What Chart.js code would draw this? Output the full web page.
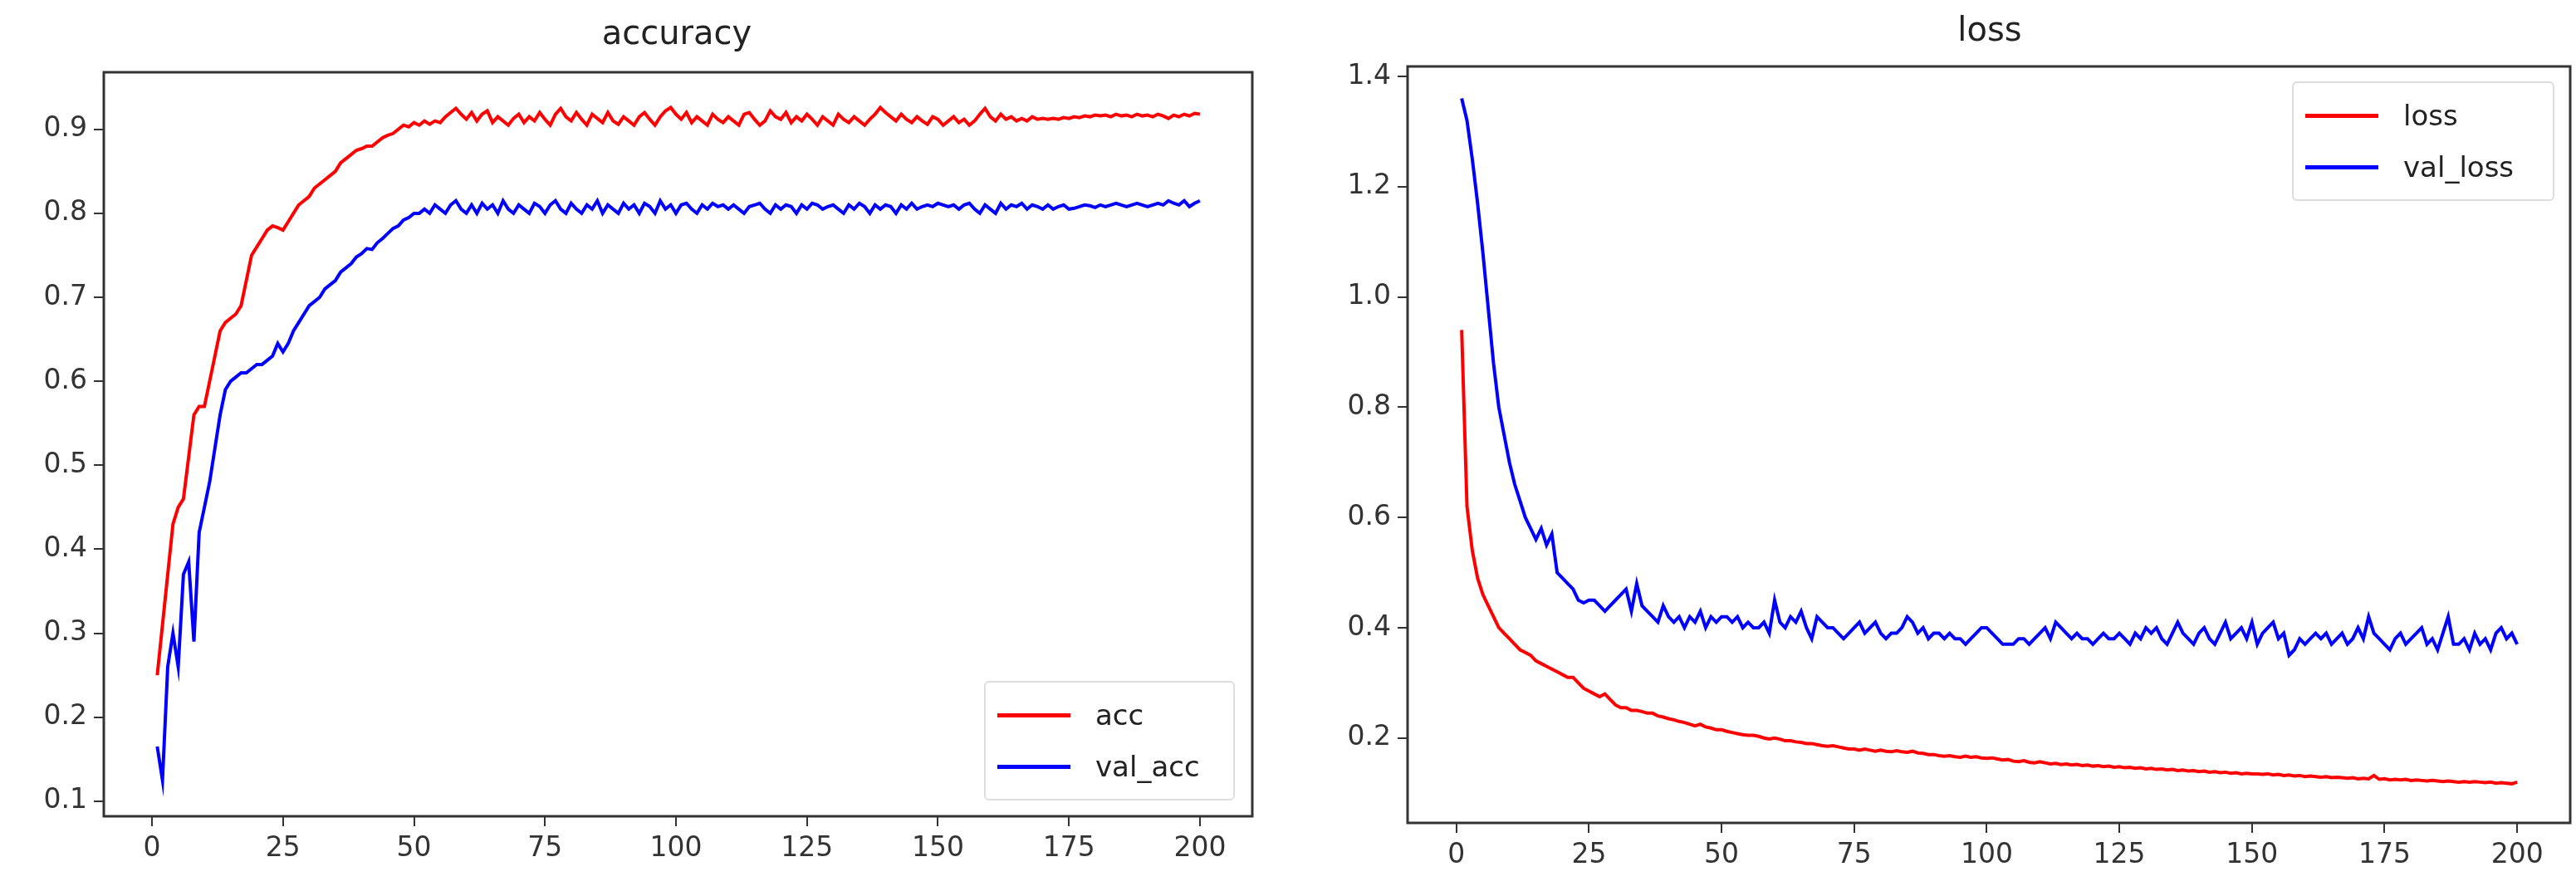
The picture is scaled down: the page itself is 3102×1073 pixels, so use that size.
<!DOCTYPE html>
<html>
<head>
<meta charset="utf-8">
<script src="https://cdn.jsdelivr.net/npm/chart.js@4"></script>
<style>
  body { margin: 0; background: #fff; font-family: "DejaVu Sans", sans-serif; }
  .panel { position: absolute; top: 0; height: 1073px; }
  .title { position: absolute; top: 16px; width: 100%; text-align: center; font-size: 40px; color: #222; }
  .legend { position: absolute; background: rgba(255,255,255,0.85); border: 2px solid #ddd; border-radius: 6px; font-size: 34px; color: #222; padding: 8px 14px; }
  .legend div { display: flex; align-items: center; height: 62px; }
  .legend span { display: inline-block; width: 88px; height: 5px; margin-right: 30px; }
</style>
</head>
<body>
<div class="panel" style="left:0;width:1550px">
  <canvas id="accChart" width="1550" height="1073"></canvas>
  <div class="title" style="left:40px">accuracy</div>
  <div class="legend" style="left:1185px;top:820px;width:270px">
    <div><span style="background:#ff0000"></span>acc</div>
    <div><span style="background:#0000ff"></span>val_acc</div>
  </div>
</div>
<div class="panel" style="left:1550px;width:1552px">
  <canvas id="lossChart" width="1552" height="1073"></canvas>
  <div class="title" style="left:70px;top:12px">loss</div>
  <div class="legend" style="left:1210px;top:98px;width:284px">
    <div><span style="background:#ff0000"></span>loss</div>
    <div><span style="background:#0000ff"></span>val_loss</div>
  </div>
</div>
<script>
const epochs = Array.from({ length: 200 }, (_, i) => i + 1);
const xTicks = [0, 25, 50, 75, 100, 125, 150, 175, 200];
const accTicks = [0.1, 0.2, 0.3, 0.4, 0.5, 0.6, 0.7, 0.8, 0.9];
const lossTicks = [0.2, 0.4, 0.6, 0.8, 1.0, 1.2, 1.4];

const acc = [
  .25,.31,.37,.43,.45,.46,.51,.56,.57,.57,
  .60,.63,.66,.67,.675,.68,.69,.72,.75,.76,
  .77,.78,.785,.783,.78,.79,.80,.81,.815,.82,
  .83,.835,.84,.845,.85,.86,.865,.87,.875,.877,
  .88,.88,.885,.89,.893,.895,.90,.905,.903,.908,
  .905,.91,.906,.91,.908,.915,.92,.925,.918,.912,
  .92,.91,.918,.922,.908,.915,.91,.905,.913,.918,
  .908,.915,.91,.92,.912,.905,.918,.925,.915,.91,
  .92,.912,.905,.918,.913,.908,.92,.91,.906,.915,
  .91,.905,.915,.92,.912,.905,.915,.922,.926,.918,
  .912,.92,.908,.915,.91,.905,.918,.912,.908,.915,
  .91,.905,.918,.92,.912,.905,.91,.922,.915,.912,
  .92,.908,.915,.91,.918,.912,.905,.915,.91,.905,
  .918,.912,.908,.915,.91,.905,.912,.918,.926,.92,
  .915,.91,.918,.912,.908,.915,.91,.906,.915,.912,
  .905,.91,.915,.908,.912,.905,.91,.918,.925,.915,
  .91,.918,.912,.915,.91,.913,.91,.915,.912,.913,
  .912,.913,.912,.914,.913,.915,.914,.916,.915,.917,
  .916,.917,.915,.918,.916,.917,.915,.918,.916,.917,
  .915,.918,.916,.913,.917,.915,.918,.916,.919,.918
];
const valAcc = [
  .165,.125,.26,.30,.26,.37,.385,.29,.42,.45,
  .48,.52,.56,.59,.60,.605,.61,.61,.615,.62,
  .62,.625,.63,.645,.635,.645,.66,.67,.68,.69,
  .695,.70,.71,.715,.72,.73,.735,.74,.748,.752,
  .758,.757,.765,.77,.776,.782,.785,.792,.795,.80,
  .80,.805,.80,.81,.805,.80,.81,.815,.805,.80,
  .81,.80,.812,.805,.81,.80,.815,.805,.80,.81,
  .805,.80,.812,.808,.80,.81,.815,.805,.80,.812,
  .805,.80,.81,.805,.815,.80,.81,.805,.80,.812,
  .805,.81,.80,.812,.808,.80,.815,.805,.81,.80,
  .81,.812,.805,.80,.81,.805,.812,.808,.81,.805,
  .81,.805,.80,.808,.81,.812,.805,.80,.81,.805,
  .81,.808,.80,.81,.805,.812,.81,.805,.808,.81,
  .805,.80,.81,.805,.812,.808,.80,.81,.805,.81,
  .808,.80,.81,.805,.812,.805,.808,.81,.808,.812,
  .81,.808,.81,.805,.81,.812,.805,.80,.81,.805,
  .80,.812,.805,.81,.808,.812,.805,.81,.808,.805,
  .81,.805,.808,.81,.805,.806,.808,.81,.809,.807,
  .81,.808,.81,.812,.81,.808,.81,.812,.81,.808,
  .81,.812,.81,.815,.812,.81,.815,.808,.812,.815
];
const loss = [
  .94,.62,.54,.49,.46,.44,.42,.40,.39,.38,
  .37,.36,.355,.35,.34,.335,.33,.325,.32,.315,
  .31,.31,.30,.29,.285,.28,.275,.28,.27,.26,
  .255,.255,.25,.25,.248,.245,.245,.24,.238,.235,
  .233,.23,.228,.225,.222,.225,.22,.218,.215,.215,
  .212,.21,.208,.206,.205,.205,.203,.20,.198,.20,
  .198,.195,.195,.193,.192,.19,.19,.188,.186,.185,
  .186,.184,.182,.18,.18,.178,.18,.178,.176,.178,
  .176,.175,.177,.175,.174,.176,.173,.172,.17,.17,
  .168,.167,.168,.166,.165,.167,.165,.166,.164,.163,
  .164,.162,.16,.161,.158,.157,.159,.156,.155,.157,
  .155,.153,.154,.152,.153,.151,.152,.15,.151,.149,
  .15,.148,.149,.147,.148,.146,.147,.145,.146,.144,
  .145,.143,.144,.142,.143,.141,.142,.14,.141,.139,
  .14,.138,.139,.137,.138,.136,.137,.135,.136,.135,
  .135,.134,.135,.133,.134,.132,.133,.131,.132,.13,
  .131,.13,.129,.13,.128,.129,.128,.127,.128,.126,
  .127,.126,.132,.125,.126,.124,.125,.124,.125,.123,
  .124,.123,.122,.123,.122,.121,.122,.121,.12,.121,
  .12,.121,.12,.119,.12,.118,.119,.118,.117,.12
];
const valLoss = [
  1.36,1.32,1.25,1.17,1.08,.98,.88,.80,.75,.70,
  .66,.63,.60,.58,.56,.58,.55,.57,.50,.49,
  .48,.47,.45,.445,.45,.45,.44,.43,.44,.45,
  .46,.47,.43,.48,.44,.43,.42,.41,.44,.42,
  .41,.42,.40,.42,.41,.43,.40,.42,.41,.42,
  .42,.41,.42,.40,.41,.40,.40,.41,.39,.45,
  .41,.40,.42,.41,.43,.40,.38,.42,.41,.40,
  .40,.39,.38,.39,.40,.41,.39,.40,.41,.39,
  .38,.39,.39,.40,.42,.41,.39,.40,.38,.39,
  .39,.38,.39,.38,.38,.37,.38,.39,.40,.40,
  .39,.38,.37,.37,.37,.38,.38,.37,.38,.39,
  .40,.38,.41,.40,.39,.38,.39,.38,.38,.37,
  .38,.39,.38,.38,.39,.38,.37,.39,.38,.40,
  .39,.40,.38,.37,.39,.41,.39,.38,.37,.39,
  .40,.38,.37,.39,.41,.38,.39,.40,.38,.41,
  .37,.39,.40,.41,.38,.39,.35,.36,.38,.37,
  .38,.39,.38,.39,.37,.38,.39,.37,.38,.40,
  .38,.42,.39,.38,.37,.36,.38,.39,.37,.38,
  .39,.40,.37,.38,.36,.39,.42,.37,.37,.38,
  .36,.39,.37,.38,.36,.39,.40,.38,.39,.37
];

// box around plot area, like matplotlib spines
const frame = {
  id: "frame",
  afterDraw(chart) {
    const { ctx, chartArea: a } = chart;
    ctx.save();
    ctx.strokeStyle = "#333";
    ctx.lineWidth = 3;
    ctx.strokeRect(a.left, a.top, a.right - a.left, a.bottom - a.top);
    ctx.restore();
  },
};

function makeChart(id, series, yTicks, yMin, yMax, box, fmt) {
  const tickFont = { family: "DejaVu Sans", size: 33 };
  return new Chart(document.getElementById(id), {
    type: "line",
    data: {
      datasets: series.map(s => ({
        data: epochs.map((e, i) => ({ x: e, y: s.values[i] })),
        borderColor: s.color,
        borderWidth: 4,
        pointRadius: 0,
        tension: 0,
      })),
    },
    options: {
      responsive: false,
      animation: false,
      layout: { padding: { top: box.top, right: box.right, left: 0, bottom: 0 } },
      plugins: { legend: { display: false }, tooltip: { enabled: false } },
      scales: {
        x: {
          type: "linear",
          min: -9.2,
          max: 210,
          afterBuildTicks: s => { s.ticks = xTicks.map(v => ({ value: v })); },
          afterFit: s => { s.height = box.bottom; },
          grid: { drawOnChartArea: false, tickLength: 12, color: "#333", lineWidth: 2 },
          border: { display: false },
          ticks: { font: tickFont, color: "#333", padding: 8, maxRotation: 0 },
        },
        y: {
          min: yMin,
          max: yMax,
          afterBuildTicks: s => { s.ticks = yTicks.map(v => ({ value: v })); },
          afterFit: s => { s.width = box.left; },
          grid: { drawOnChartArea: false, tickLength: 12, color: "#333", lineWidth: 2 },
          border: { display: false },
          ticks: { font: tickFont, color: "#333", padding: 8, callback: fmt },
        },
      },
    },
    plugins: [frame],
  });
}

makeChart("accChart",
  [{ values: acc, color: "#ff0000" }, { values: valAcc, color: "#0000ff" }],
  accTicks, 0.082, 0.968,
  { left: 125, right: 42, top: 87, bottom: 90 },
  v => v.toFixed(1));

makeChart("lossChart",
  [{ values: loss, color: "#ff0000" }, { values: valLoss, color: "#0000ff" }],
  lossTicks, 0.046, 1.418,
  { left: 145, right: 7, top: 80, bottom: 82 },
  v => v.toFixed(1));
</script>
</body>
</html>
